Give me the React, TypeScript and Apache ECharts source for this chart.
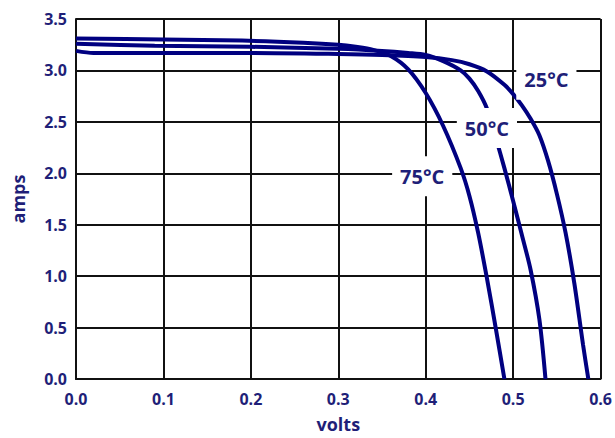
import React, { useEffect, useRef } from "react";
import * as echarts from "echarts";

const xTicks = [0, 0.1, 0.2, 0.3, 0.4, 0.5, 0.6];
const yTicks = [0, 0.5, 1.0, 1.5, 2.0, 2.5, 3.0, 3.5];

const volts25 = [0, 0.02, 0.1, 0.2, 0.3, 0.35, 0.4, 0.43, 0.45, 0.47, 0.49, 0.5, 0.51, 0.52, 0.53, 0.54, 0.55, 0.56, 0.57, 0.58, 0.586];
const amps25 = [3.19, 3.17, 3.17, 3.17, 3.16, 3.15, 3.13, 3.1, 3.06, 2.99, 2.86, 2.77, 2.66, 2.53, 2.37, 2.12, 1.8, 1.42, 0.93, 0.33, 0.0];

const volts50 = [0, 0.09, 0.2, 0.3, 0.35, 0.38, 0.4, 0.42, 0.44, 0.45, 0.46, 0.47, 0.48, 0.49, 0.5, 0.51, 0.52, 0.53, 0.537];
const amps50 = [3.26, 3.24, 3.23, 3.21, 3.19, 3.17, 3.15, 3.09, 3.0, 2.92, 2.8, 2.63, 2.35, 2.05, 1.73, 1.4, 1.06, 0.58, 0.0];

const volts75 = [0, 0.1, 0.19, 0.26, 0.3, 0.32, 0.34, 0.36, 0.38, 0.4, 0.42, 0.44, 0.45, 0.46, 0.47, 0.48, 0.49];
const amps75 = [3.31, 3.3, 3.29, 3.27, 3.25, 3.23, 3.2, 3.14, 3.01, 2.78, 2.46, 2.05, 1.78, 1.42, 0.98, 0.5, 0.0];

const labelNames = ["25°C", "50°C", "75°C"];
const labelVolts = [0.538, 0.47, 0.396];
const labelAmps = [2.91, 2.44, 1.97];

const LINE = "#000080";
const TEXT = "#1f1f78";
const FONT = "'Open Sans', sans-serif";

function pairs(xs: number[], ys: number[]) {
  return xs.map((x, i) => [x, ys[i]]);
}

export default function App() {
  const ref = useRef<HTMLDivElement>(null);
  useEffect(() => {
    if (!ref.current) return;
    const chart = echarts.init(ref.current, undefined, { renderer: "svg" });
    const lineSeries = (name: string, data: number[][]) => ({
      name,
      type: "line",
      data,
      showSymbol: false,
      smooth: 0.3,
      z: 3,
      lineStyle: { color: LINE, width: 4 },
    });
    chart.setOption({
      animation: false,
      backgroundColor: "#ffffff",
      grid: { left: 76, right: 13, top: 19, bottom: 56, containLabel: false },
      xAxis: {
        type: "value",
        min: 0,
        max: 0.6,
        interval: 0.1,
        name: "volts",
        nameLocation: "middle",
        nameGap: 36,
        nameTextStyle: { color: TEXT, fontFamily: FONT, fontWeight: "bold", fontSize: 18 },
        axisLine: { show: true, lineStyle: { color: "#111", width: 2 } },
        axisTick: { show: false },
        axisLabel: {
          color: TEXT,
          fontFamily: FONT,
          fontWeight: "bold",
          fontSize: 16,
          margin: 12,
          formatter: (v: number) => (xTicks.some((t) => Math.abs(t - v) < 1e-9) ? v.toFixed(1) : ""),
        },
        splitLine: { show: true, lineStyle: { color: "#111", width: 2 } },
      },
      yAxis: {
        type: "value",
        min: 0,
        max: 3.5,
        interval: 0.5,
        name: "amps",
        nameLocation: "middle",
        nameGap: 49,
        nameTextStyle: { color: TEXT, fontFamily: FONT, fontWeight: "bold", fontSize: 18 },
        axisLine: { show: true, lineStyle: { color: "#111", width: 2 } },
        axisTick: { show: false },
        axisLabel: {
          color: TEXT,
          fontFamily: FONT,
          fontWeight: "bold",
          fontSize: 16,
          margin: 9,
          formatter: (v: number) => (yTicks.some((t) => Math.abs(t - v) < 1e-9) ? v.toFixed(1) : ""),
        },
        splitLine: { show: true, lineStyle: { color: "#111", width: 2 } },
      },
      series: [
        lineSeries("25°C", pairs(volts25, amps25)),
        lineSeries("50°C", pairs(volts50, amps50)),
        lineSeries("75°C", pairs(volts75, amps75)),
        {
          type: "scatter",
          z: 10,
          symbolSize: 0,
          itemStyle: { opacity: 1 },
          data: labelNames.map((n, i) => ({ name: n, value: [labelVolts[i], labelAmps[i]] })),
          label: {
            show: true,
            position: "inside",
            opacity: 1,
            formatter: (p: any) => p.name,
            color: TEXT,
            fontFamily: FONT,
            fontWeight: "bold",
            fontSize: 20,
            backgroundColor: "#ffffff",
            padding: [10, 8],
          },
          emphasis: { disabled: true },
        },
      ],
    });
    return () => chart.dispose();
  }, []);
  return (
    <div
      ref={ref}
      style={{ position: "fixed", left: 0, top: 0, width: 615, height: 438, background: "#fff" }}
    />
  );
}
